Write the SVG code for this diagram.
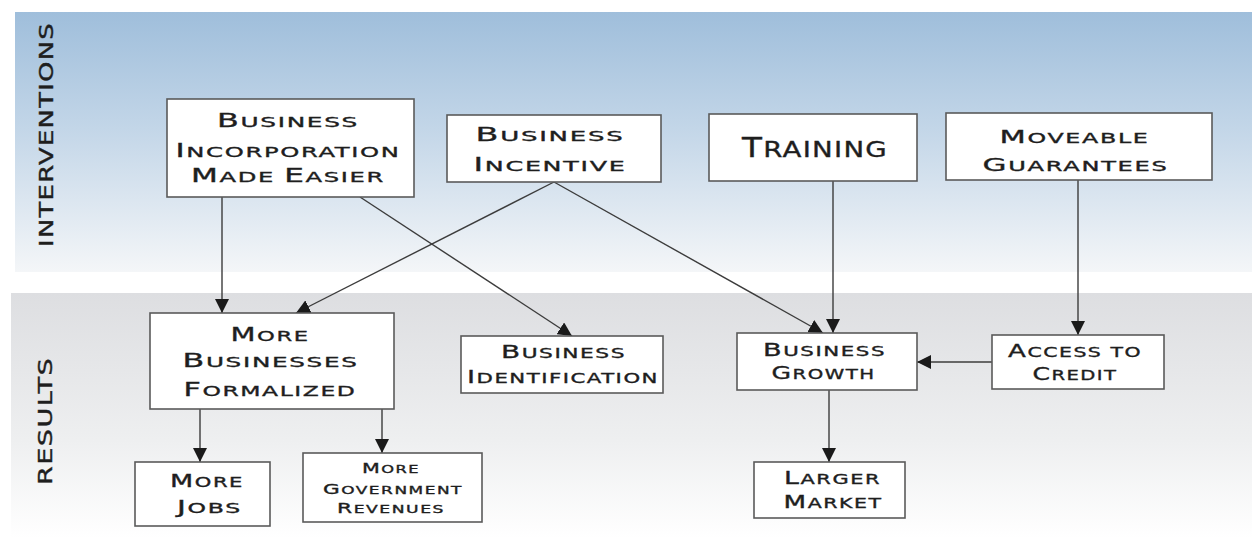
<svg xmlns="http://www.w3.org/2000/svg" width="1252" height="542" viewBox="0 0 1252 542">
<defs>
<linearGradient id="gTop" x1="0" y1="0" x2="0" y2="1">
<stop offset="0" stop-color="#9fbedb"/>
<stop offset="0.45" stop-color="#c3d6e8"/>
<stop offset="1" stop-color="#f4f6f8"/>
</linearGradient>
<linearGradient id="gBot" x1="0" y1="0" x2="0" y2="1">
<stop offset="0" stop-color="#dddee1"/>
<stop offset="0.6" stop-color="#eeeff0"/>
<stop offset="1" stop-color="#ffffff"/>
</linearGradient>
<marker id="ah" markerWidth="14" markerHeight="14" refX="14" refY="7" orient="auto" markerUnits="userSpaceOnUse">
<path d="M0,0 L14,7 L0,14 Z" fill="#1a1a1a"/>
</marker>
</defs>
<style>
.box{fill:#ffffff;stroke:#5a5a5a;stroke-width:1.6}
.t{font-family:"DejaVu Sans","Liberation Sans",sans-serif;fill:#1e1e1e;stroke:#1e1e1e;stroke-width:0.35;text-anchor:middle;letter-spacing:1px}
.v{font-family:"DejaVu Sans","Liberation Sans",sans-serif;fill:#1e1e1e;stroke:#1e1e1e;stroke-width:0.4;text-anchor:middle;letter-spacing:1px}
.c{fill:none;stroke:#3c3c3c;stroke-width:1.4;marker-end:url(#ah)}
.f19{font-size:14.8px}.f19 .k{font-size:19px}
.f18{font-size:14px}.f18 .k{font-size:18px}
.f17{font-size:13.3px}.f17 .k{font-size:17px}
.f14{font-size:11px}.f14 .k{font-size:14px}
.f26{font-size:22px}.f26 .k{font-size:26px}
</style>
<rect width="1252" height="542" fill="#ffffff"/>
<rect x="15" y="12" width="1237" height="260" fill="url(#gTop)"/>
<rect x="11" y="293" width="1241" height="245" fill="url(#gBot)"/>
<g id="label-interventions">
<text class="v" font-size="20" transform="translate(53,134.5) rotate(-90)" textLength="225" lengthAdjust="spacingAndGlyphs">INTERVENTIONS</text>
</g>
<g id="label-results">
<text class="v" font-size="20" transform="translate(52,421) rotate(-90)" textLength="128" lengthAdjust="spacingAndGlyphs">RESULTS</text>
</g>
<g id="connectors">
<line class="c" x1="222" y1="197" x2="222" y2="313"/>
<line class="c" x1="360" y1="197" x2="572" y2="336"/>
<line class="c" x1="554" y1="182" x2="296" y2="313"/>
<line class="c" x1="554" y1="182" x2="823" y2="333"/>
<line class="c" x1="833" y1="181" x2="833" y2="333"/>
<line class="c" x1="1078" y1="180" x2="1078" y2="335"/>
<line class="c" x1="992" y1="362" x2="917" y2="362"/>
<line class="c" x1="200" y1="409" x2="200" y2="462"/>
<line class="c" x1="382" y1="409" x2="382" y2="453"/>
<line class="c" x1="829" y1="390" x2="829" y2="462"/>
</g>
<g id="n-incorporation">
<rect class="box" x="167" y="99" width="247" height="98"/>
<text class="t f19" x="288" y="127" textLength="142" lengthAdjust="spacingAndGlyphs"><tspan class="k">B</tspan>USINESS</text>
<text class="t f19" x="288" y="157" textLength="225" lengthAdjust="spacingAndGlyphs"><tspan class="k">I</tspan>NCORPORATION</text>
<text class="t f19" x="288" y="182" textLength="194" lengthAdjust="spacingAndGlyphs"><tspan class="k">M</tspan>ADE <tspan class="k">E</tspan>ASIER</text>
</g>
<g id="n-incentive">
<rect class="box" x="447" y="115" width="214" height="67"/>
<text class="t f19" x="550" y="141" textLength="149" lengthAdjust="spacingAndGlyphs"><tspan class="k">B</tspan>USINESS</text>
<text class="t f19" x="550" y="171" textLength="153" lengthAdjust="spacingAndGlyphs"><tspan class="k">I</tspan>NCENTIVE</text>
</g>
<g id="n-training">
<rect class="box" x="709" y="114" width="208" height="67"/>
<text class="t f26" x="815" y="157" textLength="146" lengthAdjust="spacingAndGlyphs"><tspan class="k">T</tspan>RAINING</text>
</g>
<g id="n-guarantees">
<rect class="box" x="946" y="113" width="266" height="67"/>
<text class="t f18" x="1074.5" y="143" textLength="150" lengthAdjust="spacingAndGlyphs"><tspan class="k">M</tspan>OVEABLE</text>
<text class="t f18" x="1075.5" y="171" textLength="186" lengthAdjust="spacingAndGlyphs"><tspan class="k">G</tspan>UARANTEES</text>
</g>
<g id="n-formalized">
<rect class="box" x="150" y="313" width="244" height="96"/>
<text class="t f19" x="270" y="341" textLength="79" lengthAdjust="spacingAndGlyphs"><tspan class="k">M</tspan>ORE</text>
<text class="t f19" x="270.5" y="367" textLength="176" lengthAdjust="spacingAndGlyphs"><tspan class="k">B</tspan>USINESSES</text>
<text class="t f19" x="270" y="396" textLength="173" lengthAdjust="spacingAndGlyphs"><tspan class="k">F</tspan>ORMALIZED</text>
</g>
<g id="n-identification">
<rect class="box" x="461" y="336" width="202" height="57"/>
<text class="t f18" x="563.5" y="358" textLength="125" lengthAdjust="spacingAndGlyphs"><tspan class="k">B</tspan>USINESS</text>
<text class="t f18" x="563" y="383" textLength="192" lengthAdjust="spacingAndGlyphs"><tspan class="k">I</tspan>DENTIFICATION</text>
</g>
<g id="n-growth">
<rect class="box" x="737" y="333" width="180" height="57"/>
<text class="t f17" x="824.5" y="356" textLength="123" lengthAdjust="spacingAndGlyphs"><tspan class="k">B</tspan>USINESS</text>
<text class="t f17" x="823.5" y="379" textLength="104" lengthAdjust="spacingAndGlyphs"><tspan class="k">G</tspan>ROWTH</text>
</g>
<g id="n-credit">
<rect class="box" x="992" y="335" width="172" height="54"/>
<text class="t f17" x="1075" y="357" textLength="134" lengthAdjust="spacingAndGlyphs"><tspan class="k">A</tspan>CCESS TO</text>
<text class="t f17" x="1075" y="380" textLength="85" lengthAdjust="spacingAndGlyphs"><tspan class="k">C</tspan>REDIT</text>
</g>
<g id="n-jobs">
<rect class="box" x="135" y="462" width="135" height="64"/>
<text class="t f17" x="207" y="487" textLength="74" lengthAdjust="spacingAndGlyphs"><tspan class="k">M</tspan>ORE</text>
<text class="t f17" x="209.5" y="513" textLength="65" lengthAdjust="spacingAndGlyphs"><tspan class="k">J</tspan>OBS</text>
</g>
<g id="n-revenues">
<rect class="box" x="303" y="453" width="179" height="69"/>
<text class="t f14" x="391" y="473" textLength="58" lengthAdjust="spacingAndGlyphs"><tspan class="k">M</tspan>ORE</text>
<text class="t f14" x="393" y="494" textLength="140" lengthAdjust="spacingAndGlyphs"><tspan class="k">G</tspan>OVERNMENT</text>
<text class="t f14" x="391" y="513" textLength="108" lengthAdjust="spacingAndGlyphs"><tspan class="k">R</tspan>EVENUES</text>
</g>
<g id="n-market">
<rect class="box" x="754" y="462" width="151" height="56"/>
<text class="t f17" x="832.5" y="484" textLength="97" lengthAdjust="spacingAndGlyphs"><tspan class="k">L</tspan>ARGER</text>
<text class="t f17" x="833" y="508" textLength="99" lengthAdjust="spacingAndGlyphs"><tspan class="k">M</tspan>ARKET</text>
</g>
</svg>
